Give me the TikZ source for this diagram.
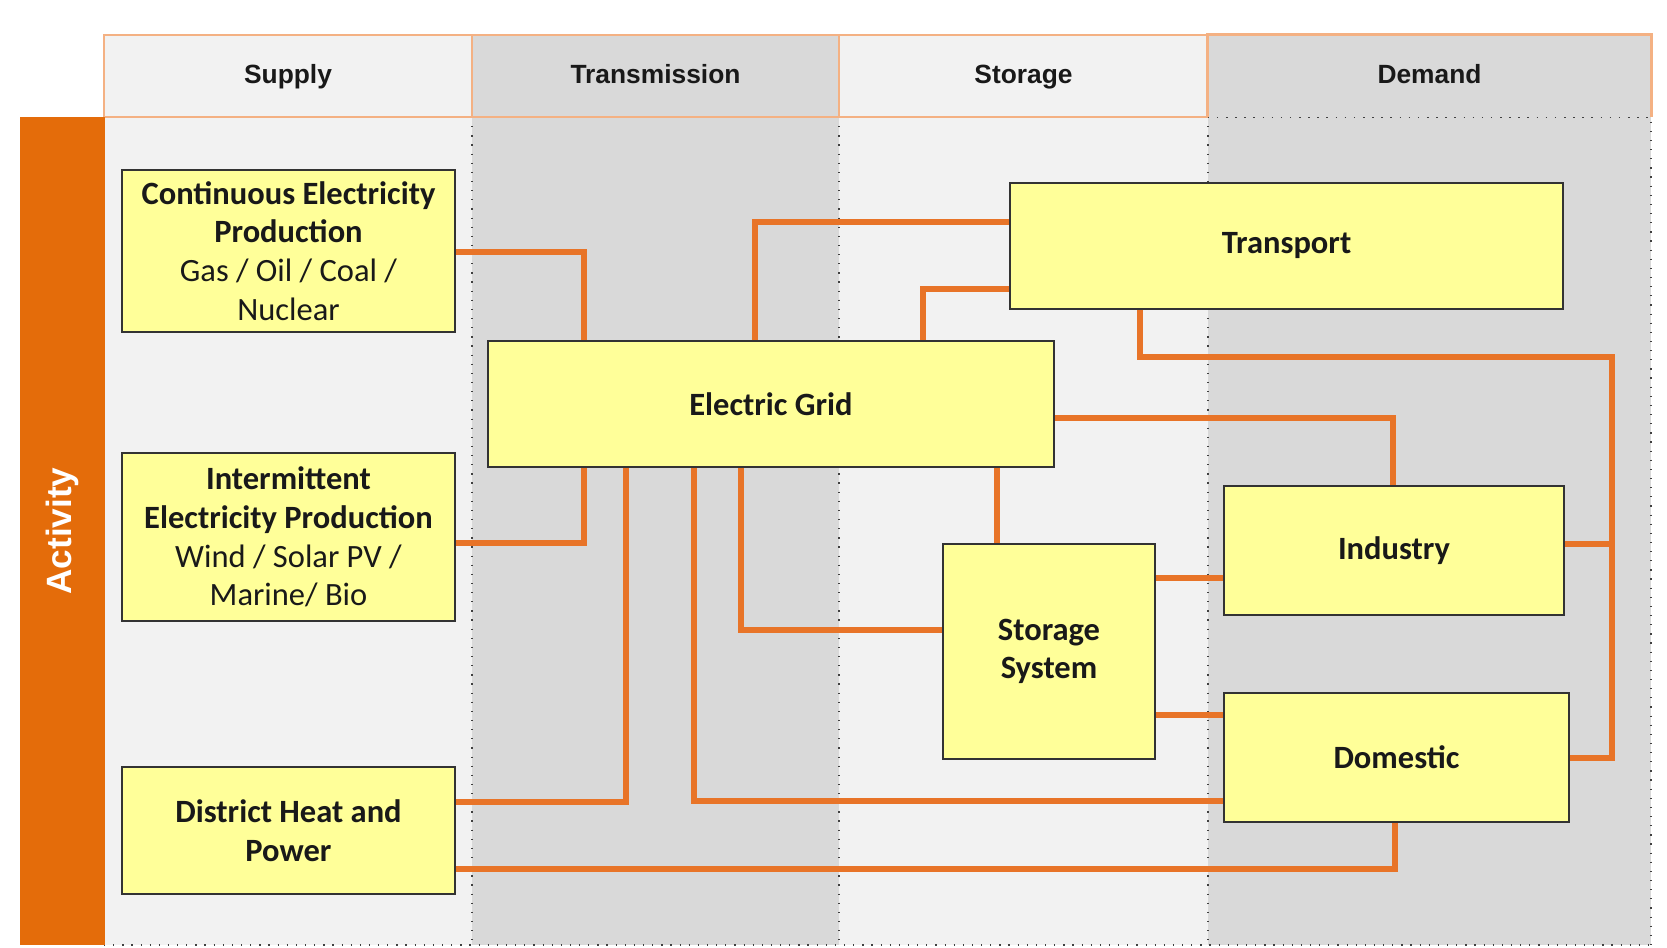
\documentclass[tikz,border=0pt]{standalone}
\usepackage{fontspec}
\setmainfont{Carlito}
\newfontfamily\headfont{Liberation Sans}
\usepackage{xcolor}
\usepackage{tikz}
\usetikzlibrary{positioning}
\definecolor{lightcol}{RGB}{242,242,242}
\definecolor{darkcol}{RGB}{217,217,217}
\definecolor{barorange}{RGB}{228,108,10}
\definecolor{linkorange}{RGB}{232,116,40}
\definecolor{headorange}{RGB}{244,177,131}
\definecolor{boxyellow}{RGB}{255,255,153}

\begin{document}
\begin{tikzpicture}[x=0.02cm, y=-0.02cm,
  box/.style={rectangle, draw=black!80, line width=1pt, fill=boxyellow,
    align=center, inner sep=0pt, text=black!90, font=\fontsize{18.5}{22}\selectfont},
  colhead/.style={rectangle, inner sep=0pt, minimum height=1.64cm, text=black!90,
    text height=11pt, text depth=3pt, font=\headfont\bfseries\fontsize{15}{18}\selectfont},
  headline/.style={draw=headorange, line width=1.4pt},
  coldiv/.style={draw=black!75, line width=0.7pt, dash pattern=on 0.7pt off 4.5pt},
  link/.style={draw=linkorange, line width=3.1pt},
]
\useasboundingbox[fill=white] (0,0) rectangle (1667,947);
\fill[lightcol] (104,117) rectangle (472,945);
\fill[darkcol] (472,117) rectangle (839,945);
\fill[lightcol] (839,117) rectangle (1208,945);
\fill[darkcol] (1208,117) rectangle (1651,945);
\draw[coldiv] (472,117) -- (472,945);
\draw[coldiv] (839,117) -- (839,945);
\draw[coldiv] (1208,117) -- (1208,945);
\draw[coldiv] (1208,117) -- (1651,117) -- (1651,945);
\draw[coldiv] (104,945) -- (1651,945);

\node[colhead, fill=lightcol, headline, minimum width=7.36cm] (supply) at (288,76) {Supply};
\node[colhead, fill=darkcol, headline, minimum width=7.34cm] (transm) at (655.5,76) {Transmission};
\node[colhead, fill=lightcol, headline, minimum width=7.38cm] (storage) at (1023.5,76) {Storage};
\node[colhead, fill=darkcol, minimum width=8.86cm] (demand) at (1429.5,76) {Demand};
\draw[headline] (demand.south west) -- (demand.north west) -- (demand.north east) -- (demand.south east);
\draw[coldiv] (demand.south west) -- (demand.south east);

\node[rectangle, fill=barorange, rotate=90, minimum width=16.56cm, minimum height=1.7cm,
  inner sep=0pt, text=white, font=\headfont\bfseries\fontsize{20}{24}\selectfont] (act) at (62.5,531) {Activity};

\node[box, minimum width=6.66cm, minimum height=3.24cm] (cont) at (288.5,251)
  {\textbf{Continuous Electricity}\\\textbf{Production}\\Gas / Oil / Coal /\\Nuclear};
\node[box, minimum width=6.66cm, minimum height=3.36cm] (inter) at (288.5,537)
  {\textbf{Intermittent}\\\textbf{Electricity Production}\\Wind / Solar PV /\\Marine/ Bio};
\node[box, minimum width=6.66cm, minimum height=2.54cm] (dhp) at (288.5,830.5)
  {\textbf{District Heat and}\\\textbf{Power}};
\node[box, minimum width=11.32cm, minimum height=2.52cm] (grid) at (771,404) {\textbf{Electric Grid}};
\node[box, minimum width=11.06cm, minimum height=2.52cm] (trans) at (1286.5,246) {\textbf{Transport}};
\node[box, minimum width=4.24cm, minimum height=4.3cm] (stor) at (1049,651.5) {\textbf{Storage}\\\textbf{System}};
\node[box, minimum width=6.8cm, minimum height=2.58cm] (ind) at (1394,550.5) {\textbf{Industry}};
\node[box, minimum width=6.9cm, minimum height=2.58cm] (dom) at (1396.5,757.5) {\textbf{Domestic}};

\coordinate (bustop) at (1612,357);
\coordinate (busbot) at (1612,758);

\draw[link] (cont.east |- 0,252) -| (grid.north -| 584,0);
\draw[link] (inter.east |- 0,543) -| (grid.south -| 584,0);
\draw[link] (dhp.east |- 0,802) -| (grid.south -| 626,0);
\draw[link] (grid.south -| 694,0) |- (dom.west |- 0,801);
\draw[link] (grid.south -| 741,0) |- (stor.west |- 0,630);
\draw[link] (grid.south -| 997,0) -- (stor.north -| 997,0);
\draw[link] (grid.north -| 755,0) |- (trans.west |- 0,222);
\draw[link] (grid.north -| 923,0) |- (trans.west |- 0,289);
\draw[link] (grid.east |- 0,418) -| (ind.north -| 1393,0);
\draw[link] (trans.south -| 1140,0) |- (bustop) -- (busbot) -- (dom.east |- busbot);
\draw[link] (ind.east |- 0,544) -- (bustop |- 0,544);
\draw[link] (stor.east |- 0,578) -- (ind.west |- 0,578);
\draw[link] (stor.east |- 0,715) -- (dom.west |- 0,715);
\draw[link] (dhp.east |- 0,869) -| (dom.south -| 1395,0);
\end{tikzpicture}
\end{document}
